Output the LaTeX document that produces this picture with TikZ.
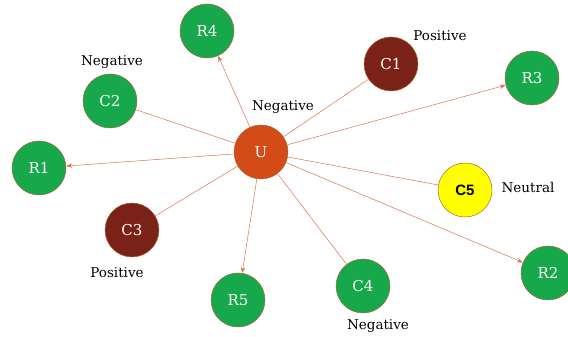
\documentclass[tikz,border=0pt]{standalone}
\usepackage{fontspec}
\setmainfont{DejaVu Serif}
\newfontfamily\cfivefont{Liberation Sans}
\usetikzlibrary{arrows.meta}
\definecolor{gfill}{HTML}{17A84B}
\definecolor{rfill}{HTML}{7A2217}
\definecolor{ufill}{HTML}{D34B17}
\definecolor{yfill}{HTML}{FFFF00}
\definecolor{edgec}{HTML}{D8734F}
\definecolor{rimc}{HTML}{A3683A}
\tikzset{
  x=1pt,y=1pt,
  base/.style={circle,minimum size=54pt,inner sep=0pt,draw=rimc,line width=0.5pt,font=\fontsize{15}{15}\selectfont},
  gnode/.style={base,fill=gfill,text=white},
  rnode/.style={base,fill=rfill,text=white},
  unode/.style={base,fill=ufill,text=white,minimum size=54pt},
  ynode/.style={base,fill=yfill,text=black,font=\cfivefont\bfseries\fontsize{15}{15}\selectfont},
  lab/.style={font=\fontsize{13.5}{13.5}\selectfont,text=black,inner sep=0pt},
  arr/.style={draw=edgec,line width=0.5pt,-{Stealth[length=6pt,width=4.5pt]}},
  lin/.style={draw=edgec,line width=0.5pt}
}
\begin{document}
\begin{tikzpicture}
\useasboundingbox (0,0) rectangle (568,337);
\node[unode] (U) at (261,185) {U};
\node[gnode] (R4) at (207,306) {R4};
\node[rnode] (C1) at (391,273) {C1};
\node[gnode] (R3) at (532,259) {R3};
\node[gnode] (C2) at (110,236) {C2};
\node[gnode] (R1) at (39,169) {R1};
\node[rnode] (C3) at (132,107) {C3};
\node[gnode] (R5) at (238,37) {R5};
\node[gnode] (C4) at (363,51) {C4};
\node[gnode] (R2) at (548,64) {R2};
\node[ynode] (C5) at (465,147) {C5};
\node[lab] (l1) at (112,275) {Negative};
\node[lab] (l2) at (283,230) {Negative};
\node[lab] (l3) at (440,301) {Positive};
\node[lab] (l4) at (528,150) {Neutral};
\node[lab] (l5) at (117,64) {Positive};
\node[lab] (l6) at (378,11) {Negative};
\draw[arr] (U) -- (R4);
\draw[arr] (U) -- (R3);
\draw[arr] (U) -- (R1);
\draw[arr] (U) -- (R5);
\draw[arr] (U) -- (R2);
\draw[lin] (U) -- (C1);
\draw[lin] (U) -- (C2);
\draw[lin] (U) -- (C3);
\draw[lin] (U) -- (C4);
\draw[lin] (U) -- (C5);
\end{tikzpicture}
\end{document}
